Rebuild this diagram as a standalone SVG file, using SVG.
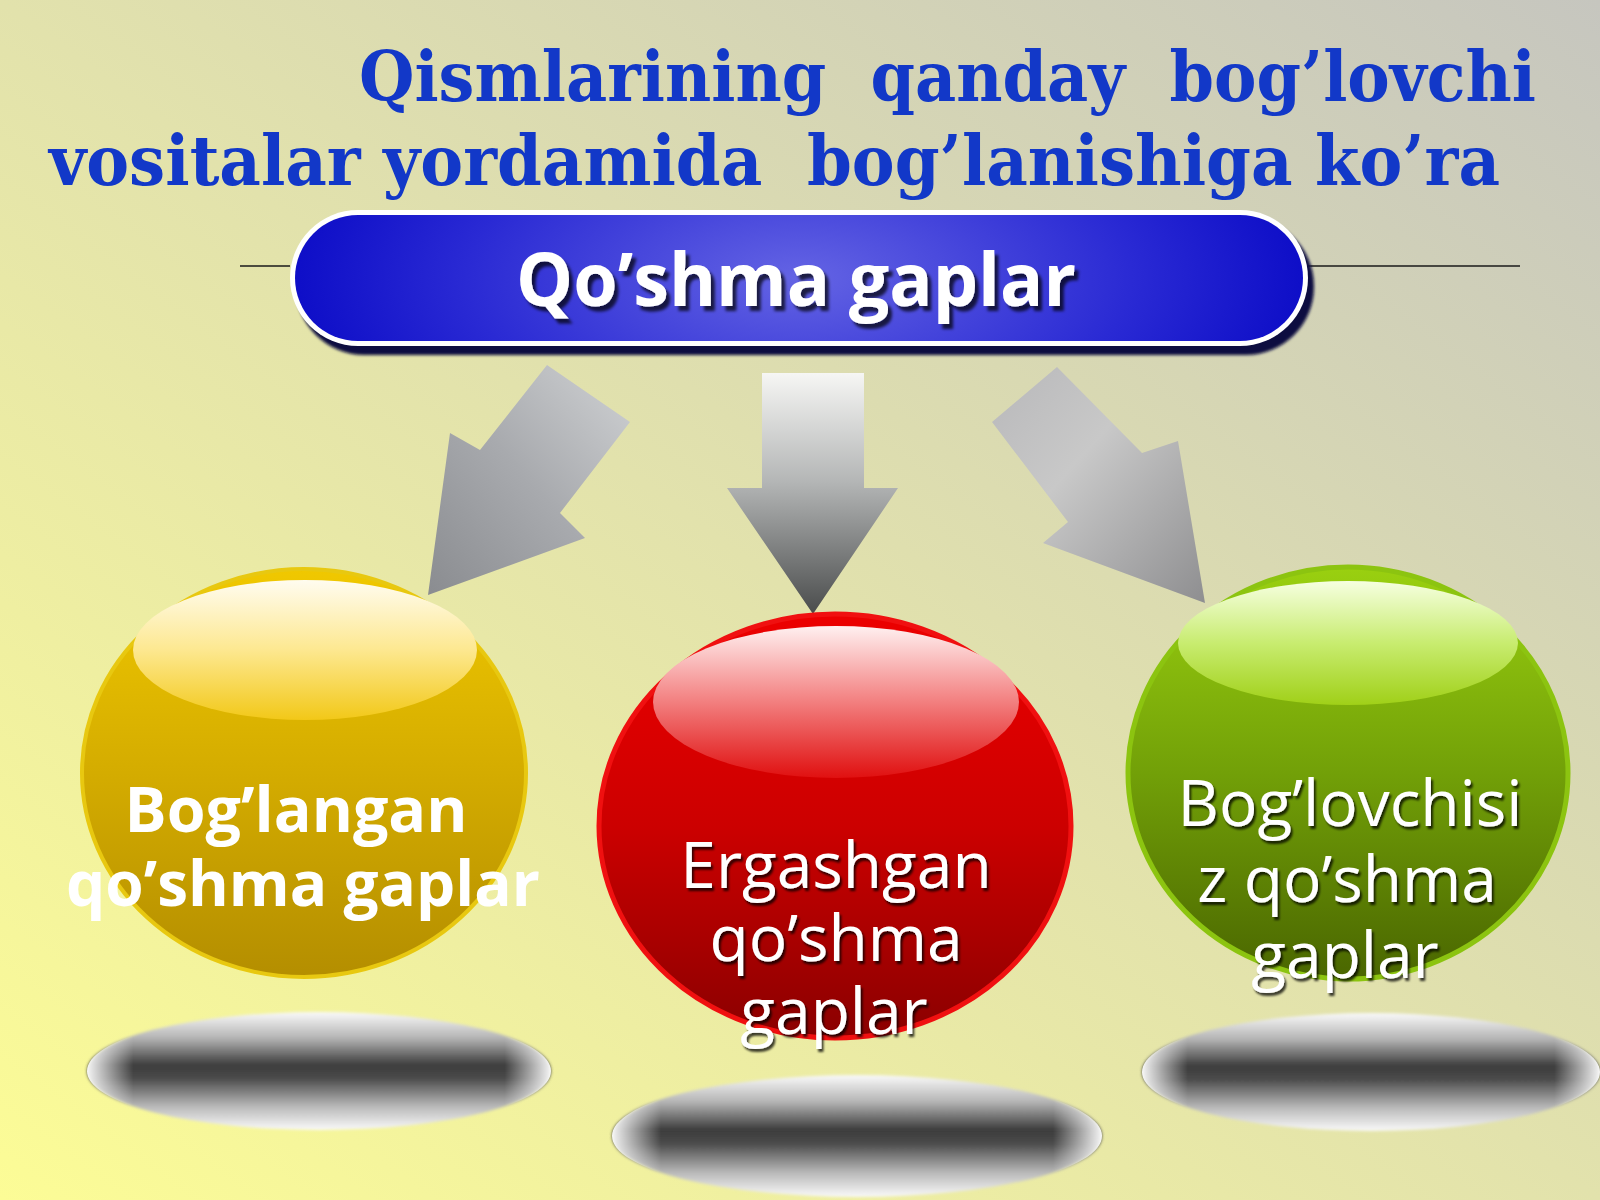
<svg xmlns="http://www.w3.org/2000/svg" width="1600" height="1200" viewBox="0 0 1600 1200">
<defs>
<style>
.title{font-family:"DejaVu Serif","Liberation Serif",serif;font-weight:bold;font-size:70px;fill:#1238c8}
.pilltxt{font-family:"Open Sans","Noto Sans",sans-serif;font-weight:bold;font-size:73px;fill:#ffffff}
.btxt{font-family:"Open Sans","Noto Sans",sans-serif;font-weight:bold;font-size:63px;fill:#ffffff;text-anchor:middle}
.stxt{font-family:"Open Sans","Noto Sans",sans-serif;font-size:64px;fill:#ffffff;text-anchor:middle}
.line{stroke:#1a1a1a;stroke-width:1.6}
</style>
<linearGradient id="bg" x1="0" y1="1" x2="1" y2="0">
<stop offset="0" stop-color="#fcfc96"/>
<stop offset="0.5" stop-color="#e2e2ac"/>
<stop offset="1" stop-color="#c6c6bf"/>
</linearGradient>
<radialGradient id="pillg" cx="0.5" cy="0.5" r="0.55" gradientTransform="translate(0.5,0.5) scale(1,3.6) translate(-0.5,-0.5)">
<stop offset="0" stop-color="#6464e4"/>
<stop offset="0.6" stop-color="#2a2ad4"/>
<stop offset="1" stop-color="#0606c4"/>
</radialGradient>
<linearGradient id="arrM" x1="0" y1="0" x2="0" y2="1">
<stop offset="0" stop-color="#f6f6f4"/>
<stop offset="0.45" stop-color="#b4b6b6"/>
<stop offset="1" stop-color="#4a4c4c"/>
</linearGradient>
<linearGradient id="arrL" x1="1" y1="0" x2="0" y2="1">
<stop offset="0" stop-color="#d0d2d4"/>
<stop offset="0.5" stop-color="#a8aaae"/>
<stop offset="1" stop-color="#8a8c90"/>
</linearGradient>
<linearGradient id="arrR" x1="0" y1="0" x2="1" y2="1">
<stop offset="0" stop-color="#b8b8ba"/>
<stop offset="0.4" stop-color="#c8c8c8"/>
<stop offset="1" stop-color="#8e8e90"/>
</linearGradient>
<linearGradient id="yel" x1="0" y1="0" x2="0" y2="1">
<stop offset="0" stop-color="#f0c800"/>
<stop offset="0.5" stop-color="#d4ac00"/>
<stop offset="1" stop-color="#b48e00"/>
</linearGradient>
<linearGradient id="yelH" x1="0" y1="0" x2="0" y2="1">
<stop offset="0" stop-color="#fffcf0"/>
<stop offset="0.5" stop-color="#fde890"/>
<stop offset="1" stop-color="#f2c818"/>
</linearGradient>
<linearGradient id="red" x1="0" y1="0" x2="0" y2="1">
<stop offset="0" stop-color="#ec0000"/>
<stop offset="0.5" stop-color="#cc0000"/>
<stop offset="1" stop-color="#8a0000"/>
</linearGradient>
<linearGradient id="redH" x1="0" y1="0" x2="0" y2="1">
<stop offset="0" stop-color="#fff0f0"/>
<stop offset="0.45" stop-color="#f48a8a"/>
<stop offset="1" stop-color="#e01010"/>
</linearGradient>
<linearGradient id="grn" x1="0" y1="0" x2="0" y2="1">
<stop offset="0" stop-color="#9ad010"/>
<stop offset="0.5" stop-color="#72a008"/>
<stop offset="1" stop-color="#4a6600"/>
</linearGradient>
<linearGradient id="grnH" x1="0" y1="0" x2="0" y2="1">
<stop offset="0" stop-color="#f6ffe0"/>
<stop offset="0.5" stop-color="#c8ec70"/>
<stop offset="1" stop-color="#a0d018"/>
</linearGradient>
<linearGradient id="shv" x1="0" y1="0" x2="0" y2="1">
<stop offset="0" stop-color="#fafafa"/>
<stop offset="0.22" stop-color="#b4b4b4"/>
<stop offset="0.45" stop-color="#3c3c3c"/>
<stop offset="0.56" stop-color="#4a4a4a"/>
<stop offset="0.8" stop-color="#b8b8b8"/>
<stop offset="1" stop-color="#fafafa"/>
</linearGradient>
<linearGradient id="shh" x1="0" y1="0" x2="1" y2="0">
<stop offset="0" stop-color="#ffffff" stop-opacity="0.95"/>
<stop offset="0.1" stop-color="#ffffff" stop-opacity="0"/>
<stop offset="0.9" stop-color="#ffffff" stop-opacity="0"/>
<stop offset="1" stop-color="#ffffff" stop-opacity="0.95"/>
</linearGradient>
<filter id="tsh" x="-10%" y="-20%" width="120%" height="150%">
<feDropShadow dx="2" dy="3" stdDeviation="1" flood-color="#000" flood-opacity="0.75"/>
</filter>
<filter id="psh" x="-10%" y="-20%" width="120%" height="150%">
<feDropShadow dx="4" dy="5" stdDeviation="1.5" flood-color="#000" flood-opacity="0.7"/>
</filter>
<filter id="blur1"><feGaussianBlur stdDeviation="1.5"/></filter>
</defs>

<rect x="0" y="0" width="1600" height="1200" fill="url(#bg)"/>

<g id="title">
<text class="title" x="359" y="101" textLength="1177" lengthAdjust="spacingAndGlyphs" xml:space="preserve">Qismlarining  qanday  bog’lovchi</text>
<text class="title" x="49" y="185" textLength="1451" lengthAdjust="spacingAndGlyphs" xml:space="preserve">vositalar yordamida  bog’lanishiga ko’ra</text>
</g>

<g id="connectors">
<line class="line" x1="240" y1="266" x2="290" y2="266"/>
<line class="line" x1="1308" y1="266" x2="1520" y2="266"/>
<polygon points="547,365 630,422 560,513 585,538 428,595 450,433 480,450" fill="url(#arrL)"/>
<polygon points="762,373 864,373 864,488 898,488 813,614 727,488 762,488" fill="url(#arrM)"/>
<polygon points="1057,367 992,422 1068,522 1043,543 1205,603 1178,441 1142,453" fill="url(#arrR)"/>
</g>

<g id="root">
<rect x="296" y="218" width="1018" height="137" rx="68" fill="#0c0c40" filter="url(#blur1)"/>
<rect x="290" y="210" width="1018" height="136" rx="68" fill="#ffffff"/>
<rect x="295" y="215" width="1008" height="126" rx="63" fill="url(#pillg)"/>
<text class="pilltxt" x="516" y="306" textLength="560" lengthAdjust="spacingAndGlyphs" filter="url(#psh)">Qo’shma gaplar</text>
</g>

<g id="shadows">
<g>
<ellipse cx="319" cy="1071" rx="232" ry="59" fill="url(#shv)" filter="url(#blur1)"/>
<ellipse cx="319" cy="1071" rx="232" ry="59" fill="url(#shh)"/>
</g>
<g>
<ellipse cx="857" cy="1136" rx="245" ry="61" fill="url(#shv)" filter="url(#blur1)"/>
<ellipse cx="857" cy="1136" rx="245" ry="61" fill="url(#shh)"/>
</g>
<g>
<ellipse cx="1371" cy="1072" rx="229" ry="59" fill="url(#shv)" filter="url(#blur1)"/>
<ellipse cx="1371" cy="1072" rx="229" ry="59" fill="url(#shh)"/>
</g>
</g>

<g id="node-boglangan">
<ellipse cx="304" cy="773" rx="222" ry="204" fill="url(#yel)" stroke="#e8c810" stroke-width="4"/>
<ellipse cx="305" cy="650" rx="172" ry="70" fill="url(#yelH)"/>
<text class="btxt" x="296" y="832" textLength="343" lengthAdjust="spacingAndGlyphs">Bog’langan</text>
<text class="btxt" x="303" y="906" textLength="474" lengthAdjust="spacingAndGlyphs">qo’shma gaplar</text>
</g>

<g id="node-ergashgan">
<ellipse cx="835" cy="826" rx="236" ry="212" fill="url(#red)" stroke="#f01010" stroke-width="5"/>
<ellipse cx="836" cy="702" rx="183" ry="76" fill="url(#redH)"/>
<g filter="url(#tsh)">
<text class="stxt" x="836" y="888">Ergashgan</text>
<text class="stxt" x="836" y="961">qo’shma</text>
<text class="stxt" x="834" y="1034">gaplar</text>
</g>
</g>

<g id="node-boglovchisiz">
<ellipse cx="1348" cy="773" rx="220" ry="206" fill="url(#grn)" stroke="#8cc410" stroke-width="5"/>
<ellipse cx="1348" cy="643" rx="170" ry="62" fill="url(#grnH)"/>
<g filter="url(#tsh)">
<text class="stxt" x="1350" y="826">Bog’lovchisi</text>
<text class="stxt" x="1347" y="902">z qo’shma</text>
<text class="stxt" x="1345" y="978">gaplar</text>
</g>
</g>
</svg>
